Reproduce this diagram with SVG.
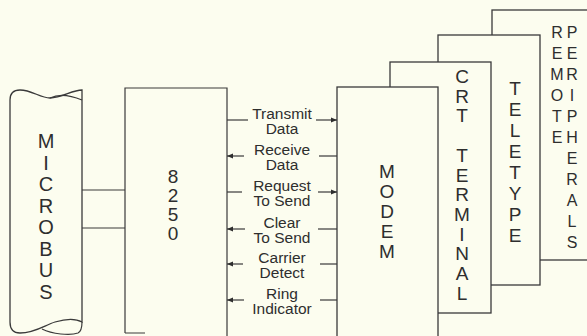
<svg xmlns="http://www.w3.org/2000/svg" width="587" height="336" viewBox="0 0 587 336">
<style>
.bg{fill:#fcfdef}
.box{fill:#fcfdef;stroke:#3a3a3a;stroke-width:1.3}
.ln{fill:none;stroke:#3a3a3a;stroke-width:1.2}
.big{font-family:"Liberation Sans",Arial,sans-serif;font-size:19px;fill:#2e2e2e;text-anchor:middle}
.mid{font-family:"Liberation Sans",Arial,sans-serif;font-size:16px;fill:#2e2e2e;text-anchor:middle}
.lbl{font-family:"Liberation Sans",Arial,sans-serif;font-size:15.5px;fill:#2e2e2e;text-anchor:middle}
</style>
<defs>
<marker id="ah" markerUnits="userSpaceOnUse" markerWidth="7" markerHeight="6" refX="6" refY="3" orient="auto">
<path d="M0,0.5 L6,3 L0,5.5 z" fill="#2e2e2e"/>
</marker>
</defs>
<rect class="bg" x="0" y="0" width="587" height="336"/>

<g id="remote">
<rect class="box" x="492" y="10" width="120" height="250"/>
<text class="mid"><tspan x="557" y="38">R</tspan><tspan x="557" y="59">E</tspan><tspan x="557" y="80">M</tspan><tspan x="557" y="101">O</tspan><tspan x="557" y="122">T</tspan><tspan x="557" y="143">E</tspan></text>
<text class="mid"><tspan x="572" y="38">P</tspan><tspan x="572" y="59">E</tspan><tspan x="572" y="80">R</tspan><tspan x="572" y="101">I</tspan><tspan x="572" y="122">P</tspan><tspan x="572" y="143">H</tspan><tspan x="572" y="164">E</tspan><tspan x="572" y="185">R</tspan><tspan x="572" y="206">A</tspan><tspan x="572" y="227">L</tspan><tspan x="572" y="248">S</tspan></text>
</g>

<g id="teletype">
<rect class="box" x="438" y="35" width="102" height="250"/>
<text class="big"><tspan x="515" y="95">T</tspan><tspan x="515" y="116">E</tspan><tspan x="515" y="137">L</tspan><tspan x="515" y="158">E</tspan><tspan x="515" y="179">T</tspan><tspan x="515" y="200">Y</tspan><tspan x="515" y="221">P</tspan><tspan x="515" y="242">E</tspan></text>
</g>

<g id="crt-terminal">
<rect class="box" x="390" y="62" width="101" height="251"/>
<text class="big"><tspan x="462" y="83">C</tspan><tspan x="462" y="103">R</tspan><tspan x="462" y="122">T</tspan><tspan x="462" y="162">T</tspan><tspan x="462" y="182">E</tspan><tspan x="462" y="201">R</tspan><tspan x="462" y="221">M</tspan><tspan x="462" y="241">I</tspan><tspan x="462" y="260">N</tspan><tspan x="462" y="280">A</tspan><tspan x="462" y="300">L</tspan></text>
</g>

<g id="modem">
<rect class="box" x="337" y="87" width="101" height="270"/>
<text class="big"><tspan x="387" y="178">M</tspan><tspan x="387" y="198">O</tspan><tspan x="387" y="218">D</tspan><tspan x="387" y="238">E</tspan><tspan x="387" y="258">M</tspan></text>
</g>

<g id="uart-8250">
<rect class="bg" x="125" y="88" width="102" height="248"/>
<path class="ln" d="M125,333 L125,88 L227,88 L227,336 M125,333 L145,333"/>
<text class="big"><tspan x="173" y="183">8</tspan><tspan x="173" y="202">2</tspan><tspan x="173" y="221">5</tspan><tspan x="173" y="240">0</tspan></text>
</g>

<g id="microbus">
<path class="box" d="M10,100 Q10,90 20,90 C32,90 40,98 50,98 C62,98 72,90 82,90 L82,322 C75,318 65,319 55,322 C45,325 35,333 20,333 Q10,333 10,322 Z"/>
<path class="ln" d="M50,98 C58,94 70,95 82,100"/>
<path class="ln" d="M42,329 C52,334 70,336 78,333 Q82,331 82,322"/>
<text class="big" style="font-size:20px"><tspan x="46" y="148">M</tspan><tspan x="46" y="169.5">I</tspan><tspan x="46" y="191">C</tspan><tspan x="46" y="212.5">R</tspan><tspan x="46" y="234">O</tspan><tspan x="46" y="255.5">B</tspan><tspan x="46" y="277">U</tspan><tspan x="46" y="298.5">S</tspan></text>
</g>

<g id="connectors">
<path class="ln" d="M82,190 L125,190 M82,228 L125,228"/>
<path class="ln" d="M227,120 L248,120"/><path class="ln" d="M316,120 L337,120" marker-end="url(#ah)"/>
<path class="ln" d="M244,156 L227,156" marker-end="url(#ah)"/><path class="ln" d="M319,156 L337,156"/>
<path class="ln" d="M227,192 L242,192"/><path class="ln" d="M318,192 L337,192" marker-end="url(#ah)"/>
<path class="ln" d="M245,229 L227,229" marker-end="url(#ah)"/><path class="ln" d="M318,229 L337,229"/>
<path class="ln" d="M243,264 L227,264" marker-end="url(#ah)"/><path class="ln" d="M320,264 L337,264"/>
<path class="ln" d="M244,300 L227,300" marker-end="url(#ah)"/><path class="ln" d="M320,300 L337,300"/>
</g>

<g id="labels">
<text class="lbl"><tspan x="282" y="119">Transmit</tspan><tspan x="282" y="134">Data</tspan></text>
<text class="lbl"><tspan x="282" y="155">Receive</tspan><tspan x="282" y="170">Data</tspan></text>
<text class="lbl"><tspan x="282" y="191">Request</tspan><tspan x="282" y="206">To Send</tspan></text>
<text class="lbl"><tspan x="282" y="228">Clear</tspan><tspan x="282" y="243">To Send</tspan></text>
<text class="lbl"><tspan x="282" y="263">Carrier</tspan><tspan x="282" y="278">Detect</tspan></text>
<text class="lbl"><tspan x="282" y="299">Ring</tspan><tspan x="282" y="314">Indicator</tspan></text>
</g>
</svg>
